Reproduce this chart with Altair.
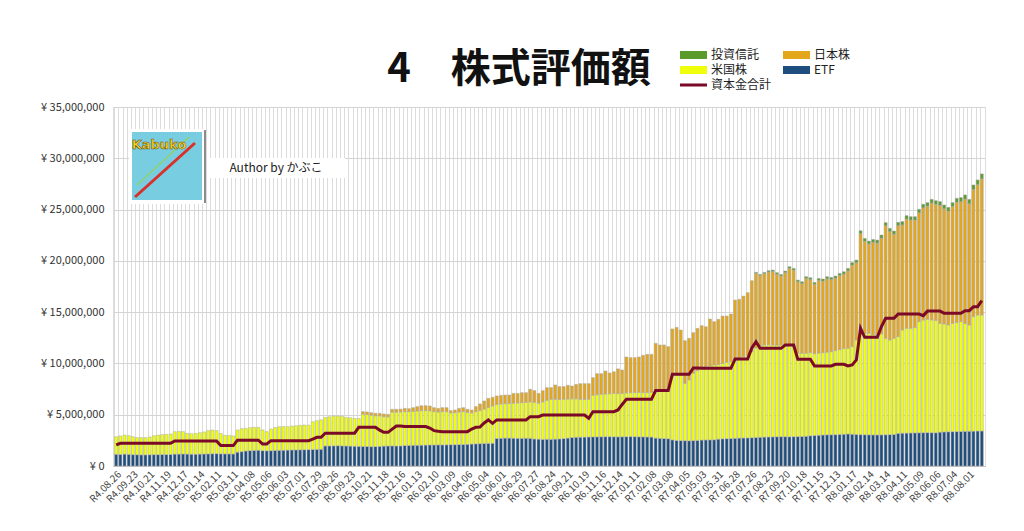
import json
import altair as alt
import pandas as pd

# ---- data (values in 万円 = 10,000 yen) ----
TICK_LABELS = [
    "R4.08.26", "R4.09.23", "R4.10.21", "R4.11.19", "R4.12.17",
    "R5.01.14", "R5.02.11", "R5.03.11", "R5.04.08", "R5.05.06", "R5.06.03", "R5.07.01",
    "R5.07.29", "R5.08.26", "R5.09.23", "R5.10.21", "R5.11.18", "R5.12.16",
    "R6.01.13", "R6.02.10", "R6.03.09", "R6.04.06", "R6.05.04", "R6.06.01", "R6.06.29",
    "R6.07.27", "R6.08.24", "R6.09.21", "R6.10.19", "R6.11.16", "R6.12.14",
    "R7.01.11", "R7.02.08", "R7.03.08", "R7.04.05", "R7.05.03", "R7.05.31", "R7.06.28",
    "R7.07.26", "R7.08.23", "R7.09.20", "R7.10.18", "R7.11.15", "R7.12.13",
    "R8.01.17", "R8.02.14", "R8.03.14", "R8.04.11", "R8.05.09", "R8.06.06", "R8.07.04", "R8.08.01",
]

ETF = [
    114, 113, 116, 114, 111,
    110, 109, 109, 110, 111, 111, 112, 112, 113,
    116, 116, 117, 116, 115, 115, 116, 117, 118,
    120, 121, 119, 118, 118, 117, 135,
    140, 146, 150, 152, 154,
    150, 148, 150, 152, 153, 154, 155, 156, 157, 158, 159, 160, 161, 162, 163,
    195, 196, 197, 198, 196, 195, 194, 193, 192, 191, 190, 189, 190, 192, 194, 195, 196, 195, 196,
    200, 201, 202, 202, 203, 204, 205, 205, 206, 206, 207, 208, 208, 209, 210, 212, 214, 216, 218, 220, 221, 222,
    268, 270, 272, 272, 271, 270, 270, 271, 270,
    263, 262, 260, 261, 260,
    262, 264, 268, 272,
    278, 280, 281, 282, 283, 284, 284, 285, 286, 286, 285, 284, 285, 286, 287, 286, 285, 284, 283, 282,
    272, 270, 268, 266,
    255, 250, 248, 247, 246, 248, 250,
    253, 254, 255, 256,
    262, 265, 267, 268, 270, 272, 273, 274, 276,
    278, 280, 282, 283, 284, 285, 286, 286, 285, 286, 287, 288, 290,
    295, 298, 300, 302, 304, 305, 306, 308, 310,
    312, 310, 308, 306, 305, 304, 303, 303, 304, 305, 306, 308,
    318, 320, 321, 322, 323, 324, 325, 326, 325, 324,
    330, 332, 334, 335, 336, 337, 338, 339, 340, 341, 341,
]

US = [
    172, 180, 186, 182, 175, 167, 168, 168, 173, 185, 191, 194, 197, 199, 219, 222, 218, 202,
    200, 203, 209, 215, 227, 231, 224, 199, 181, 181, 176, 216, 224, 221, 224, 225, 223,
    201, 187, 210, 223, 230, 231, 228, 234, 236, 239, 241, 238, 271, 280, 287, 279, 284, 290,
    289, 288, 279, 276, 272, 272, 314, 312, 307, 300, 297, 287, 284, 329, 330, 331,
    330, 329, 331, 334, 337, 336, 333, 325, 320, 324, 323, 310, 312, 317, 320, 310, 304, 314,
    322, 335, 349, 363, 332, 335, 336, 338, 341, 345, 348, 349, 355, 357, 350, 365, 379, 390,
    388, 384, 382, 380, 377, 375, 369, 366, 367, 406, 411, 415, 416, 419, 423, 422, 423, 426,
    428, 430, 433, 431, 433, 436, 463, 470, 474, 479, 625, 640, 637, 559, 594, 657, 680,
    712, 714, 720, 729, 728, 735, 743, 749, 764, 773, 793, 806, 839, 872, 895, 898, 899, 896,
    893, 894, 896, 895, 884, 813, 811, 810, 810, 797, 800, 803, 806, 810, 819, 827, 835,
    835, 854, 921, 1004, 989, 990, 975, 977, 983, 940, 923, 937, 944, 1006, 1022, 1021, 1027,
    1084, 1099, 1104, 1099, 1096, 1061, 1053, 1041, 1056, 1062, 1071, 1052, 1036, 1116, 1131, 1131,
]

JP = [0] * 59 + [
    25, 25, 24, 24, 25, 26, 25, 28, 28, 28,
    32, 29, 36, 43, 48, 48, 47, 39, 36, 39, 39, 22, 26, 36, 39, 31, 28, 49, 65, 79, 90, 85,
    83, 84, 84, 82, 96, 93, 97, 95, 123, 115, 96, 110, 124, 114,
    140, 126, 124, 135, 125, 141, 153, 155, 153, 171, 205, 200, 224, 202, 211, 241, 228, 351,
    342, 341, 345, 364, 373, 371, 461, 440, 438, 419, 456, 462, 441, 416, 405, 395, 412,
    403, 390, 458, 422, 440, 462, 452, 465, 584, 580, 591, 610, 692, 730, 683, 696, 709, 717,
    692, 673, 703, 747, 740, 696, 680, 728, 712, 676, 709, 698, 715, 703, 705, 721, 726,
    756, 794, 753, 956, 897, 871, 902, 894, 935, 1098, 1057, 1015, 1082, 1025, 1065, 1055, 1047,
    1061, 1093, 1103, 1140, 1131, 1150, 1123, 1109, 1139, 1173, 1169, 1212, 1183, 1240, 1271, 1328,
]

FUND = [0] * 153 + [
    8, 10, 12, 13, 14, 15, 15, 16, 16, 17, 17, 18, 18, 19, 19, 20, 20, 21, 21, 22, 22, 23,
    24, 25, 26, 28, 28, 28, 29, 29, 30, 30, 31, 31, 32, 32, 33, 33, 34, 34, 35, 35, 36, 36,
    37, 37, 38, 38, 39, 40, 41, 42, 44, 46, 48,
]

CAPITAL = [
    205,
    221, 221, 221, 221, 221, 221, 221, 221, 221, 221, 221, 221, 221,
    244, 244, 244, 244, 244, 244, 244, 244, 244, 244, 244,
    199, 199, 199, 199,
    252, 252, 252, 252, 252, 252,
    215, 215,
    247, 247, 247, 247, 247, 247, 247, 247, 247, 247,
    262, 280, 280,
    319, 319, 319, 319, 319, 319, 319, 319,
    377, 377, 377, 377, 377,
    350, 328, 328,
    360, 390, 390,
    385, 385, 385, 385, 385, 385,
    370, 345, 338,
    335, 335, 335, 335, 335, 335, 335,
    360, 377, 380, 420, 449, 416,
    449, 449, 449, 449, 449, 449, 449, 449,
    481, 481, 481,
    497, 497, 497,
    497, 497, 497, 497, 497, 497, 497, 497,
    465,
    530, 530, 530, 530, 530, 530,
    546, 600,
    650, 650, 650, 650, 650, 650, 650,
    735, 735, 735, 735,
    894, 894, 894, 894, 894,
    956, 956,
    952, 952, 952, 952, 952, 952, 952, 952,
    1043, 1043, 1043, 1043,
    1150, 1212,
    1147, 1147, 1147, 1147, 1147, 1147,
    1180, 1180, 1180,
    1040, 1040, 1040, 1040,
    975, 975, 975, 975, 975,
    992, 992, 992,
    975, 985, 1034, 1343,
    1255, 1255, 1255, 1255,
    1360,
    1440, 1440, 1440,
    1482, 1482, 1482, 1482, 1482, 1482,
    1466,
    1510, 1510, 1510, 1510,
    1488, 1488, 1488, 1488, 1488,
    1514, 1514,
    1553, 1553,
    1612,
]

SERIES = ["ETF", "米国株", "日本株", "投資信託"]
COLORS = {"投資信託": "#5b9b2c", "日本株": "#e4a71c", "米国株": "#f0ff0a", "ETF": "#1d4e7e"}
LINE_NAME = "資本金合計"
LINE_COLOR = "#7a0a27"
# legend grid: (name, column, row)
LEGEND_ITEMS = [("投資信託", 0, 0), ("日本株", 1, 0), ("米国株", 0, 1), ("ETF", 1, 1), (LINE_NAME, 0, 2)]
FONT = "Noto Sans CJK JP"

# ---- tables ----
rows = []
for order, (name, arr) in enumerate(zip(SERIES, [ETF, US, JP, FUND])):
    for i, v in enumerate(arr):
        if v > 0:
            rows.append({"i": i, "series": name, "ord": order, "value": v * 10000})
bars_df = pd.DataFrame(rows)
line_df = pd.DataFrame({"i": list(range(len(CAPITAL))),
                        "value": [v * 10000 for v in CAPITAL]})

label_expr = ("datum.value % 4 == 0 ? " + json.dumps(TICK_LABELS, ensure_ascii=False)
              + "[datum.value / 4] : ''")

x_enc = alt.X(
    "i:O",
    title=None,
    scale=alt.Scale(paddingInner=0.28, paddingOuter=0.4),
    axis=alt.Axis(labelExpr=label_expr, labelAngle=-45, labelFontSize=10,
                  labelColor="#444444", labelOverlap=False, ticks=False,
                  domainColor="#c0c0c0", grid=True, gridColor="#dcdcdc",
                  bandPosition=0, labelPadding=3, labelFont=FONT),
)
y_enc = alt.Y(
    "value:Q",
    title=None,
    scale=alt.Scale(domain=[0, 35000000]),
    axis=alt.Axis(values=[0, 5000000, 10000000, 15000000, 20000000, 25000000, 30000000, 35000000],
                  labelExpr="'¥ ' + format(datum.value, ',')", labelFontSize=11,
                  labelColor="#333333", ticks=False, domain=False, gridColor="#d4d4d4",
                  labelPadding=9, labelFont=FONT),
)

order_names = list(COLORS.keys())
bars = alt.Chart(bars_df).mark_bar(stroke="#ababab", strokeWidth=0.5).encode(
    x=x_enc,
    y=y_enc,
    color=alt.Color("series:N", title=None,
                    scale=alt.Scale(domain=order_names, range=[COLORS[k] for k in order_names]),
                    legend=None),
    order=alt.Order("ord:Q", sort="ascending"),
)

line = alt.Chart(line_df).mark_line(strokeWidth=3, color=LINE_COLOR).encode(x=x_enc, y=y_enc)

one = pd.DataFrame({"k": [0]})
layers = [bars, line]

# ---- legend (drawn as decoration) ----
LEG_X0, LEG_DX, LEG_Y0, LEG_DY, SYM_W = 567, 103, -52, 15, 27
for name, col, row in LEGEND_ITEMS:
    sx = LEG_X0 + col * LEG_DX
    cy = LEG_Y0 + row * LEG_DY
    if name == LINE_NAME:
        layers.append(alt.Chart(one).mark_rule(color=LINE_COLOR, strokeWidth=3).encode(
            x=alt.value(sx), x2=alt.value(sx + SYM_W), y=alt.value(cy)))
    else:
        layers.append(alt.Chart(one).mark_rect(color=COLORS[name]).encode(
            x=alt.value(sx), x2=alt.value(sx + SYM_W), y=alt.value(cy - 4), y2=alt.value(cy + 4)))
    layers.append(alt.Chart(one).mark_text(fontSize=12, color="#222222", align="left",
                                           baseline="middle", font=FONT).encode(
        x=alt.value(sx + SYM_W + 4), y=alt.value(cy), text=alt.value(name)))

# ---- title and author block ----
layers.append(alt.Chart(one).mark_text(fontSize=40, fontWeight="bold", align="center",
                                       baseline="alphabetic", color="#111111", font=FONT).encode(
    x=alt.value(406), y=alt.value(-25), text=alt.value("4　株式評価額")))
layers.append(alt.Chart(one).mark_rect(color="#ffffff").encode(
    x=alt.value(16), x2=alt.value(91), y=alt.value(22), y2=alt.value(97)))
layers.append(alt.Chart(one).mark_rect(color="#79cde0").encode(
    x=alt.value(19), x2=alt.value(89), y=alt.value(25), y2=alt.value(93)))
layers.append(alt.Chart(one).mark_rule(color="#8fd36a", strokeWidth=1.5).encode(
    x=alt.value(24), y=alt.value(78), x2=alt.value(76), y2=alt.value(30)))
layers.append(alt.Chart(one).mark_rule(color="#d9302a", strokeWidth=3).encode(
    x=alt.value(22), y=alt.value(90), x2=alt.value(82), y2=alt.value(36)))
layers.append(alt.Chart(one).mark_text(fontSize=13, fontWeight="bold", color="#f6d21e",
                                       stroke="#6b4a10", strokeWidth=0.5, font="DejaVu Sans").encode(
    x=alt.value(46), y=alt.value(38), text=alt.value("Kabuko")))
layers.append(alt.Chart(one).mark_rule(color="#8c8c8c", strokeWidth=2).encode(
    x=alt.value(92), y=alt.value(23), y2=alt.value(96)))
layers.append(alt.Chart(one).mark_rect(color="#ffffff").encode(
    x=alt.value(94), x2=alt.value(232), y=alt.value(51), y2=alt.value(71)))
layers.append(alt.Chart(one).mark_text(fontSize=12, color="#222222", baseline="middle", font=FONT).encode(
    x=alt.value(163), y=alt.value(61), text=alt.value("Author by かぶこ")))

chart = alt.layer(*layers).properties(
    width=872,
    height=359,
    autosize=alt.AutoSizeParams(type="none"),
    padding={"left": 105, "top": 99, "right": 20, "bottom": 60},
    background="#ffffff",
).configure_view(strokeWidth=0).configure(font=FONT)

chart.save("out.html", embed_options={"renderer": "svg", "actions": False})
